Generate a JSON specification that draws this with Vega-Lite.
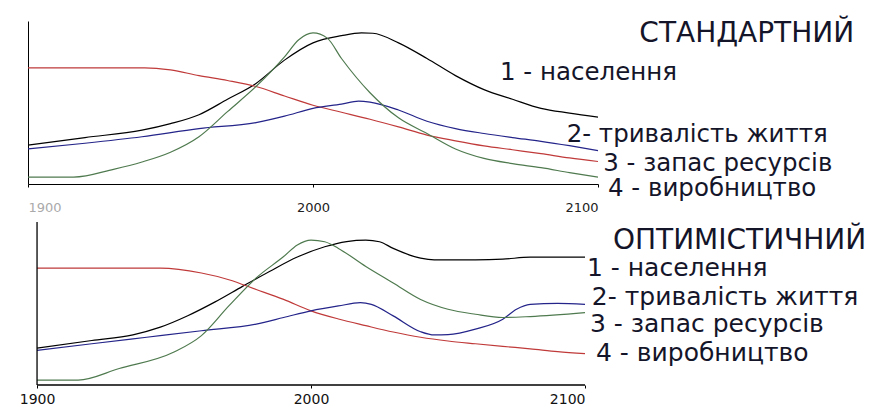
{
  "$schema": "https://vega.github.io/schema/vega-lite/v6.json",
  "padding": {"left": 19, "top": 20, "right": 0, "bottom": 0},
  "background": "white",
  "spacing": 7,
  "config": {"view": {"stroke": null}, "font": "DejaVu Sans"},
  "datasets": {
    "lines": [
      {"scenario": "standard", "series": "black", "year": 1900, "value": 23.8},
      {"scenario": "standard", "series": "black", "year": 1920, "value": 28.5},
      {"scenario": "standard", "series": "black", "year": 1940, "value": 33},
      {"scenario": "standard", "series": "black", "year": 1950, "value": 37},
      {"scenario": "standard", "series": "black", "year": 1960, "value": 42.5},
      {"scenario": "standard", "series": "black", "year": 1970, "value": 52},
      {"scenario": "standard", "series": "black", "year": 1980, "value": 61.7},
      {"scenario": "standard", "series": "black", "year": 1990, "value": 76},
      {"scenario": "standard", "series": "black", "year": 2000, "value": 86.6},
      {"scenario": "standard", "series": "black", "year": 2010, "value": 91},
      {"scenario": "standard", "series": "black", "year": 2017, "value": 92.7},
      {"scenario": "standard", "series": "black", "year": 2021, "value": 92.5},
      {"scenario": "standard", "series": "black", "year": 2030, "value": 86.6},
      {"scenario": "standard", "series": "black", "year": 2040, "value": 77},
      {"scenario": "standard", "series": "black", "year": 2050, "value": 66.5},
      {"scenario": "standard", "series": "black", "year": 2060, "value": 57.9},
      {"scenario": "standard", "series": "black", "year": 2070, "value": 52},
      {"scenario": "standard", "series": "black", "year": 2080, "value": 46.4},
      {"scenario": "standard", "series": "black", "year": 2090, "value": 43.5},
      {"scenario": "standard", "series": "black", "year": 2100, "value": 41},

      {"scenario": "standard", "series": "red", "year": 1900, "value": 71.3},
      {"scenario": "standard", "series": "red", "year": 1941, "value": 71.3},
      {"scenario": "standard", "series": "red", "year": 1950, "value": 70},
      {"scenario": "standard", "series": "red", "year": 1960, "value": 66.5},
      {"scenario": "standard", "series": "red", "year": 1970, "value": 63.5},
      {"scenario": "standard", "series": "red", "year": 1980, "value": 59.8},
      {"scenario": "standard", "series": "red", "year": 1990, "value": 54},
      {"scenario": "standard", "series": "red", "year": 2000, "value": 48.3},
      {"scenario": "standard", "series": "red", "year": 2010, "value": 44},
      {"scenario": "standard", "series": "red", "year": 2020, "value": 39.7},
      {"scenario": "standard", "series": "red", "year": 2030, "value": 35},
      {"scenario": "standard", "series": "red", "year": 2040, "value": 30},
      {"scenario": "standard", "series": "red", "year": 2050, "value": 26.5},
      {"scenario": "standard", "series": "red", "year": 2060, "value": 23.4},
      {"scenario": "standard", "series": "red", "year": 2070, "value": 21},
      {"scenario": "standard", "series": "red", "year": 2080, "value": 18.6},
      {"scenario": "standard", "series": "red", "year": 2090, "value": 16},
      {"scenario": "standard", "series": "red", "year": 2100, "value": 13.8},

      {"scenario": "standard", "series": "blue", "year": 1900, "value": 21.5},
      {"scenario": "standard", "series": "blue", "year": 1920, "value": 25},
      {"scenario": "standard", "series": "blue", "year": 1940, "value": 29},
      {"scenario": "standard", "series": "blue", "year": 1960, "value": 34},
      {"scenario": "standard", "series": "blue", "year": 1980, "value": 37.7},
      {"scenario": "standard", "series": "blue", "year": 1990, "value": 41.6},
      {"scenario": "standard", "series": "blue", "year": 2000, "value": 46.4},
      {"scenario": "standard", "series": "blue", "year": 2010, "value": 49},
      {"scenario": "standard", "series": "blue", "year": 2016, "value": 50.8},
      {"scenario": "standard", "series": "blue", "year": 2020, "value": 50.2},
      {"scenario": "standard", "series": "blue", "year": 2030, "value": 45.4},
      {"scenario": "standard", "series": "blue", "year": 2040, "value": 38.5},
      {"scenario": "standard", "series": "blue", "year": 2050, "value": 34},
      {"scenario": "standard", "series": "blue", "year": 2060, "value": 31},
      {"scenario": "standard", "series": "blue", "year": 2070, "value": 28.5},
      {"scenario": "standard", "series": "blue", "year": 2080, "value": 26.2},
      {"scenario": "standard", "series": "blue", "year": 2090, "value": 23.5},
      {"scenario": "standard", "series": "blue", "year": 2100, "value": 20.5},

      {"scenario": "standard", "series": "green", "year": 1900, "value": 4.2},
      {"scenario": "standard", "series": "green", "year": 1916, "value": 4.2},
      {"scenario": "standard", "series": "green", "year": 1930, "value": 9},
      {"scenario": "standard", "series": "green", "year": 1940, "value": 13.5},
      {"scenario": "standard", "series": "green", "year": 1950, "value": 19.5},
      {"scenario": "standard", "series": "green", "year": 1960, "value": 29},
      {"scenario": "standard", "series": "green", "year": 1970, "value": 44.4},
      {"scenario": "standard", "series": "green", "year": 1980, "value": 59.8},
      {"scenario": "standard", "series": "green", "year": 1990, "value": 78},
      {"scenario": "standard", "series": "green", "year": 1995, "value": 88.5},
      {"scenario": "standard", "series": "green", "year": 2000, "value": 92.7},
      {"scenario": "standard", "series": "green", "year": 2005, "value": 89.5},
      {"scenario": "standard", "series": "green", "year": 2010, "value": 77},
      {"scenario": "standard", "series": "green", "year": 2020, "value": 56},
      {"scenario": "standard", "series": "green", "year": 2030, "value": 40.6},
      {"scenario": "standard", "series": "green", "year": 2040, "value": 31},
      {"scenario": "standard", "series": "green", "year": 2050, "value": 21.5},
      {"scenario": "standard", "series": "green", "year": 2060, "value": 15.7},
      {"scenario": "standard", "series": "green", "year": 2070, "value": 12.5},
      {"scenario": "standard", "series": "green", "year": 2080, "value": 10},
      {"scenario": "standard", "series": "green", "year": 2090, "value": 7},
      {"scenario": "standard", "series": "green", "year": 2100, "value": 4.2},

      {"scenario": "optimistic", "series": "black", "year": 1900, "value": 22.6},
      {"scenario": "optimistic", "series": "black", "year": 1920, "value": 27.3},
      {"scenario": "optimistic", "series": "black", "year": 1935, "value": 30.8},
      {"scenario": "optimistic", "series": "black", "year": 1945, "value": 35.5},
      {"scenario": "optimistic", "series": "black", "year": 1955, "value": 42.5},
      {"scenario": "optimistic", "series": "black", "year": 1965, "value": 51},
      {"scenario": "optimistic", "series": "black", "year": 1975, "value": 60.5},
      {"scenario": "optimistic", "series": "black", "year": 1985, "value": 69.8},
      {"scenario": "optimistic", "series": "black", "year": 1995, "value": 78.5},
      {"scenario": "optimistic", "series": "black", "year": 2005, "value": 84.8},
      {"scenario": "optimistic", "series": "black", "year": 2013, "value": 88},
      {"scenario": "optimistic", "series": "black", "year": 2020, "value": 88.9},
      {"scenario": "optimistic", "series": "black", "year": 2025, "value": 87.9},
      {"scenario": "optimistic", "series": "black", "year": 2030, "value": 83.8},
      {"scenario": "optimistic", "series": "black", "year": 2040, "value": 77.8},
      {"scenario": "optimistic", "series": "black", "year": 2045, "value": 76.8},
      {"scenario": "optimistic", "series": "black", "year": 2060, "value": 76.8},
      {"scenario": "optimistic", "series": "black", "year": 2070, "value": 77.2},
      {"scenario": "optimistic", "series": "black", "year": 2080, "value": 78.4},
      {"scenario": "optimistic", "series": "black", "year": 2100, "value": 78.4},

      {"scenario": "optimistic", "series": "red", "year": 1900, "value": 71.7},
      {"scenario": "optimistic", "series": "red", "year": 1945, "value": 71.7},
      {"scenario": "optimistic", "series": "red", "year": 1960, "value": 68.7},
      {"scenario": "optimistic", "series": "red", "year": 1970, "value": 64.6},
      {"scenario": "optimistic", "series": "red", "year": 1980, "value": 58.6},
      {"scenario": "optimistic", "series": "red", "year": 1990, "value": 52.5},
      {"scenario": "optimistic", "series": "red", "year": 2000, "value": 45.5},
      {"scenario": "optimistic", "series": "red", "year": 2010, "value": 40.5},
      {"scenario": "optimistic", "series": "red", "year": 2020, "value": 36.4},
      {"scenario": "optimistic", "series": "red", "year": 2030, "value": 32.5},
      {"scenario": "optimistic", "series": "red", "year": 2040, "value": 29.3},
      {"scenario": "optimistic", "series": "red", "year": 2050, "value": 27},
      {"scenario": "optimistic", "series": "red", "year": 2060, "value": 25.3},
      {"scenario": "optimistic", "series": "red", "year": 2070, "value": 23.7},
      {"scenario": "optimistic", "series": "red", "year": 2080, "value": 22.2},
      {"scenario": "optimistic", "series": "red", "year": 2090, "value": 20.5},
      {"scenario": "optimistic", "series": "red", "year": 2100, "value": 19.2},

      {"scenario": "optimistic", "series": "blue", "year": 1900, "value": 21.2},
      {"scenario": "optimistic", "series": "blue", "year": 1920, "value": 25.3},
      {"scenario": "optimistic", "series": "blue", "year": 1940, "value": 29.3},
      {"scenario": "optimistic", "series": "blue", "year": 1960, "value": 33.3},
      {"scenario": "optimistic", "series": "blue", "year": 1980, "value": 37.4},
      {"scenario": "optimistic", "series": "blue", "year": 1990, "value": 41.4},
      {"scenario": "optimistic", "series": "blue", "year": 2000, "value": 45.5},
      {"scenario": "optimistic", "series": "blue", "year": 2010, "value": 48.5},
      {"scenario": "optimistic", "series": "blue", "year": 2018, "value": 50.5},
      {"scenario": "optimistic", "series": "blue", "year": 2022, "value": 49.5},
      {"scenario": "optimistic", "series": "blue", "year": 2030, "value": 42.4},
      {"scenario": "optimistic", "series": "blue", "year": 2040, "value": 32.7},
      {"scenario": "optimistic", "series": "blue", "year": 2045, "value": 30.7},
      {"scenario": "optimistic", "series": "blue", "year": 2050, "value": 30.9},
      {"scenario": "optimistic", "series": "blue", "year": 2060, "value": 34.3},
      {"scenario": "optimistic", "series": "blue", "year": 2070, "value": 40.4},
      {"scenario": "optimistic", "series": "blue", "year": 2075, "value": 46.5},
      {"scenario": "optimistic", "series": "blue", "year": 2080, "value": 49.5},
      {"scenario": "optimistic", "series": "blue", "year": 2090, "value": 50.1},
      {"scenario": "optimistic", "series": "blue", "year": 2100, "value": 49.5},

      {"scenario": "optimistic", "series": "green", "year": 1900, "value": 3},
      {"scenario": "optimistic", "series": "green", "year": 1915, "value": 3},
      {"scenario": "optimistic", "series": "green", "year": 1930, "value": 10.1},
      {"scenario": "optimistic", "series": "green", "year": 1950, "value": 20.2},
      {"scenario": "optimistic", "series": "green", "year": 1960, "value": 30.3},
      {"scenario": "optimistic", "series": "green", "year": 1970, "value": 48.5},
      {"scenario": "optimistic", "series": "green", "year": 1980, "value": 65.7},
      {"scenario": "optimistic", "series": "green", "year": 1990, "value": 78.8},
      {"scenario": "optimistic", "series": "green", "year": 1995, "value": 85.9},
      {"scenario": "optimistic", "series": "green", "year": 2000, "value": 88.9},
      {"scenario": "optimistic", "series": "green", "year": 2005, "value": 87.9},
      {"scenario": "optimistic", "series": "green", "year": 2010, "value": 83.8},
      {"scenario": "optimistic", "series": "green", "year": 2020, "value": 72.7},
      {"scenario": "optimistic", "series": "green", "year": 2030, "value": 62.6},
      {"scenario": "optimistic", "series": "green", "year": 2040, "value": 52.5},
      {"scenario": "optimistic", "series": "green", "year": 2050, "value": 46.5},
      {"scenario": "optimistic", "series": "green", "year": 2060, "value": 43.4},
      {"scenario": "optimistic", "series": "green", "year": 2070, "value": 41.4},
      {"scenario": "optimistic", "series": "green", "year": 2080, "value": 42},
      {"scenario": "optimistic", "series": "green", "year": 2100, "value": 44.4}
    ],
    "labels": [
      {"scenario": "standard", "kind": "title", "text": "СТАНДАРТНИЙ", "year": 2114.5, "value": 92},
      {"scenario": "standard", "kind": "item", "text": "1 - населення", "year": 2065.6, "value": 68},
      {"scenario": "standard", "kind": "item", "text": "2- тривалість життя", "year": 2089, "value": 29.8},
      {"scenario": "standard", "kind": "item", "text": "3 - запас ресурсів", "year": 2101.8, "value": 12},
      {"scenario": "standard", "kind": "item", "text": "4 - виробництво", "year": 2103.5, "value": -3},
      {"scenario": "optimistic", "kind": "title", "text": "ОПТИМІСТИЧНИЙ", "year": 2110.2, "value": 88.5},
      {"scenario": "optimistic", "kind": "item", "text": "1 - населення", "year": 2100.7, "value": 71.8},
      {"scenario": "optimistic", "kind": "item", "text": "2- тривалість життя", "year": 2102.5, "value": 54},
      {"scenario": "optimistic", "kind": "item", "text": "3 - запас ресурсів", "year": 2101.8, "value": 37.5},
      {"scenario": "optimistic", "kind": "item", "text": "4 - виробництво", "year": 2104, "value": 19.6}
    ],
    "frame": [
      {"x0": 1900, "x1": 2100, "y0": 0, "y1": 100}
    ]
  },
  "vconcat": [
    {
      "width": 570,
      "height": 163,
      "layer": [
        {
          "data": {"name": "lines"},
          "transform": [{"filter": "datum.scenario == 'standard'"}],
          "mark": {"type": "line", "interpolate": "monotone", "strokeWidth": 1.2},
          "encoding": {
            "x": {"field": "year", "type": "quantitative", "scale": {"domain": [1900, 2100], "nice": false, "zero": false},
              "axis": {"values": [1900, 2000, 2100], "format": "d", "grid": false, "title": null, "domainColor": "#000", "tickColor": "#000", "tickSize": 3, "labelFontSize": 13, "labelPadding": 14, "labelColor": {"condition": {"test": "datum.value == 1900", "value": "#aaaaaa"}, "value": "#222222"}}},
            "y": {"field": "value", "type": "quantitative", "scale": {"domain": [0, 100], "nice": false},
              "axis": {"title": null, "labels": false, "ticks": false, "grid": false, "domainColor": "#000", "minExtent": 9, "maxExtent": 9}},
            "color": {"field": "series", "type": "nominal", "legend": null,
              "scale": {"domain": ["black", "blue", "red", "green"], "range": ["#000000", "#24248a", "#c03a3a", "#4f7a4f"]}}
          }
        },
        {
          "data": {"name": "labels"},
          "transform": [{"filter": "datum.scenario == 'standard' && datum.kind == 'item'"}],
          "mark": {"type": "text", "align": "left", "baseline": "middle", "font": "DejaVu Sans", "fontSize": 24.5, "color": "#15152a"},
          "encoding": {
            "x": {"field": "year", "type": "quantitative"},
            "y": {"field": "value", "type": "quantitative"},
            "text": {"field": "text"}
          }
        },
        {
          "data": {"name": "labels"},
          "transform": [{"filter": "datum.scenario == 'standard' && datum.kind == 'title'"}],
          "mark": {"type": "text", "align": "left", "baseline": "middle", "font": "DejaVu Sans", "fontSize": 28, "color": "#15152a"},
          "encoding": {
            "x": {"field": "year", "type": "quantitative"},
            "y": {"field": "value", "type": "quantitative"},
            "text": {"field": "text"}
          }
        }
      ]
    },
    {
      "width": 557,
      "height": 163,
      "layer": [
        {
          "data": {"name": "lines"},
          "transform": [{"filter": "datum.scenario == 'optimistic'"}],
          "mark": {"type": "line", "interpolate": "monotone", "strokeWidth": 1.2},
          "encoding": {
            "x": {"field": "year", "type": "quantitative", "scale": {"domain": [1896.7, 2100], "nice": false, "zero": false},
              "axis": {"values": [1900, 2000, 2100], "format": "d", "grid": false, "title": null, "domain": false, "tickColor": "#000", "tickSize": 3, "labelFontSize": 14, "labelPadding": 4, "labelColor": "#111111"}},
            "y": {"field": "value", "type": "quantitative", "scale": {"domain": [0, 100], "nice": false},
              "axis": {"title": null, "labels": false, "ticks": false, "grid": false, "domain": false, "minExtent": 9, "maxExtent": 9}},
            "color": {"field": "series", "type": "nominal", "legend": null,
              "scale": {"domain": ["black", "blue", "red", "green"], "range": ["#000000", "#24248a", "#c03a3a", "#4f7a4f"]}}
          }
        },
        {
          "data": {"name": "frame"},
          "mark": {"type": "rule", "color": "#000", "strokeWidth": 1.3},
          "encoding": {
            "x": {"field": "x0", "type": "quantitative"},
            "y": {"field": "y0", "type": "quantitative"},
            "y2": {"field": "y1"}
          }
        },
        {
          "data": {"name": "frame"},
          "mark": {"type": "rule", "color": "#000", "strokeWidth": 1.3},
          "encoding": {
            "x": {"field": "x0", "type": "quantitative"},
            "x2": {"field": "x1"},
            "y": {"field": "y0", "type": "quantitative"}
          }
        },
        {
          "data": {"name": "labels"},
          "transform": [{"filter": "datum.scenario == 'optimistic' && datum.kind == 'item'"}],
          "mark": {"type": "text", "align": "left", "baseline": "middle", "font": "DejaVu Sans", "fontSize": 25, "color": "#15152a"},
          "encoding": {
            "x": {"field": "year", "type": "quantitative"},
            "y": {"field": "value", "type": "quantitative"},
            "text": {"field": "text"}
          }
        },
        {
          "data": {"name": "labels"},
          "transform": [{"filter": "datum.scenario == 'optimistic' && datum.kind == 'title'"}],
          "mark": {"type": "text", "align": "left", "baseline": "middle", "font": "DejaVu Sans", "fontSize": 28, "color": "#15152a"},
          "encoding": {
            "x": {"field": "year", "type": "quantitative"},
            "y": {"field": "value", "type": "quantitative"},
            "text": {"field": "text"}
          }
        }
      ]
    }
  ]
}
